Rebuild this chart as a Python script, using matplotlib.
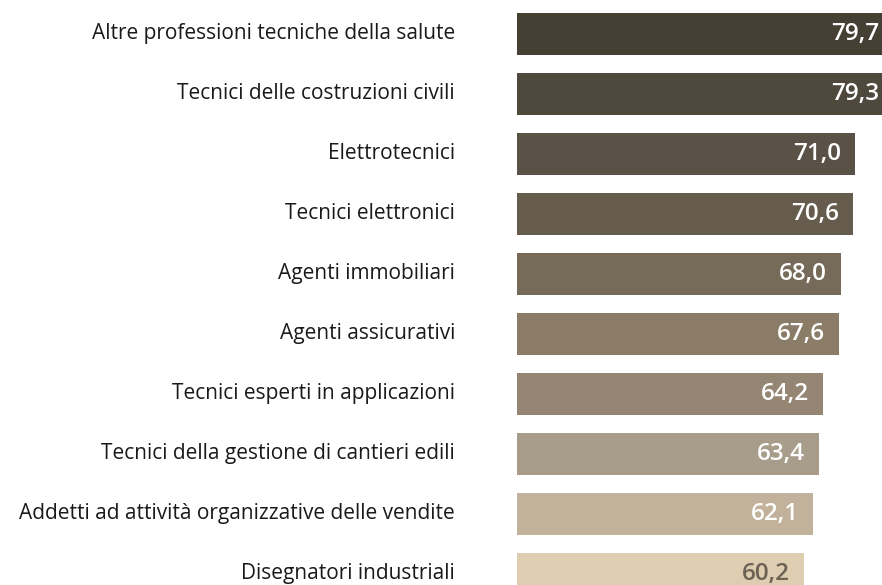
import matplotlib.pyplot as plt
from matplotlib.transforms import ScaledTranslation

categories = [
    "Altre professioni tecniche della salute",
    "Tecnici delle costruzioni civili",
    "Elettrotecnici",
    "Tecnici elettronici",
    "Agenti immobiliari",
    "Agenti assicurativi",
    "Tecnici esperti in applicazioni",
    "Tecnici della gestione di cantieri edili",
    "Addetti ad attività organizzative delle vendite",
    "Disegnatori industriali",
]
values = [79.7, 79.3, 71.0, 70.6, 68.0, 67.6, 64.2, 63.4, 62.1, 60.2]
bar_colors = [
    "#453f34", "#4f483d", "#5a5246", "#665c4e", "#766a59",
    "#8a7c67", "#958673", "#a89c8b", "#c2b19b", "#dfcdb1",
]
label_colors = ["white"] * 9 + ["#6b6254"]

plt.rcParams['font.family'] = ['Open Sans', 'DejaVu Sans']

fig = plt.figure(figsize=(8.82, 5.85), dpi=100)
ax = fig.add_axes([517 / 882, 0, 1 - 517 / 882, 1])

xmax = (882 - 517) / 4.76
ypos = list(range(len(categories)))
ax.barh(ypos, values, height=0.7, color=bar_colors)

ax.set_xlim(0, xmax)
ax.set_ylim((585 - 34) / 60, -34 / 60)

for y, v, c in zip(ypos, values, label_colors):
    lx = min(v - 2.9, xmax - 0.6)
    ax.text(lx, y, f"{v:.1f}".replace(".", ","), ha="right", va="center",
            color=c, fontsize=17.5, fontweight="semibold")

ax.set_yticks(ypos)
ax.set_yticklabels(categories, fontsize=15, color="#1a1a1a")
ax.tick_params(axis="y", length=0, pad=44.6)
ax.set_xticks([])
for s in ax.spines.values():
    s.set_visible(False)

# nudge labels up a little so the last one isn't clipped at the bottom
shift = ScaledTranslation(0, 2 / 72, fig.dpi_scale_trans)
for lbl in ax.get_yticklabels():
    lbl.set_transform(lbl.get_transform() + shift)

fig.savefig("out.png", dpi=100)
